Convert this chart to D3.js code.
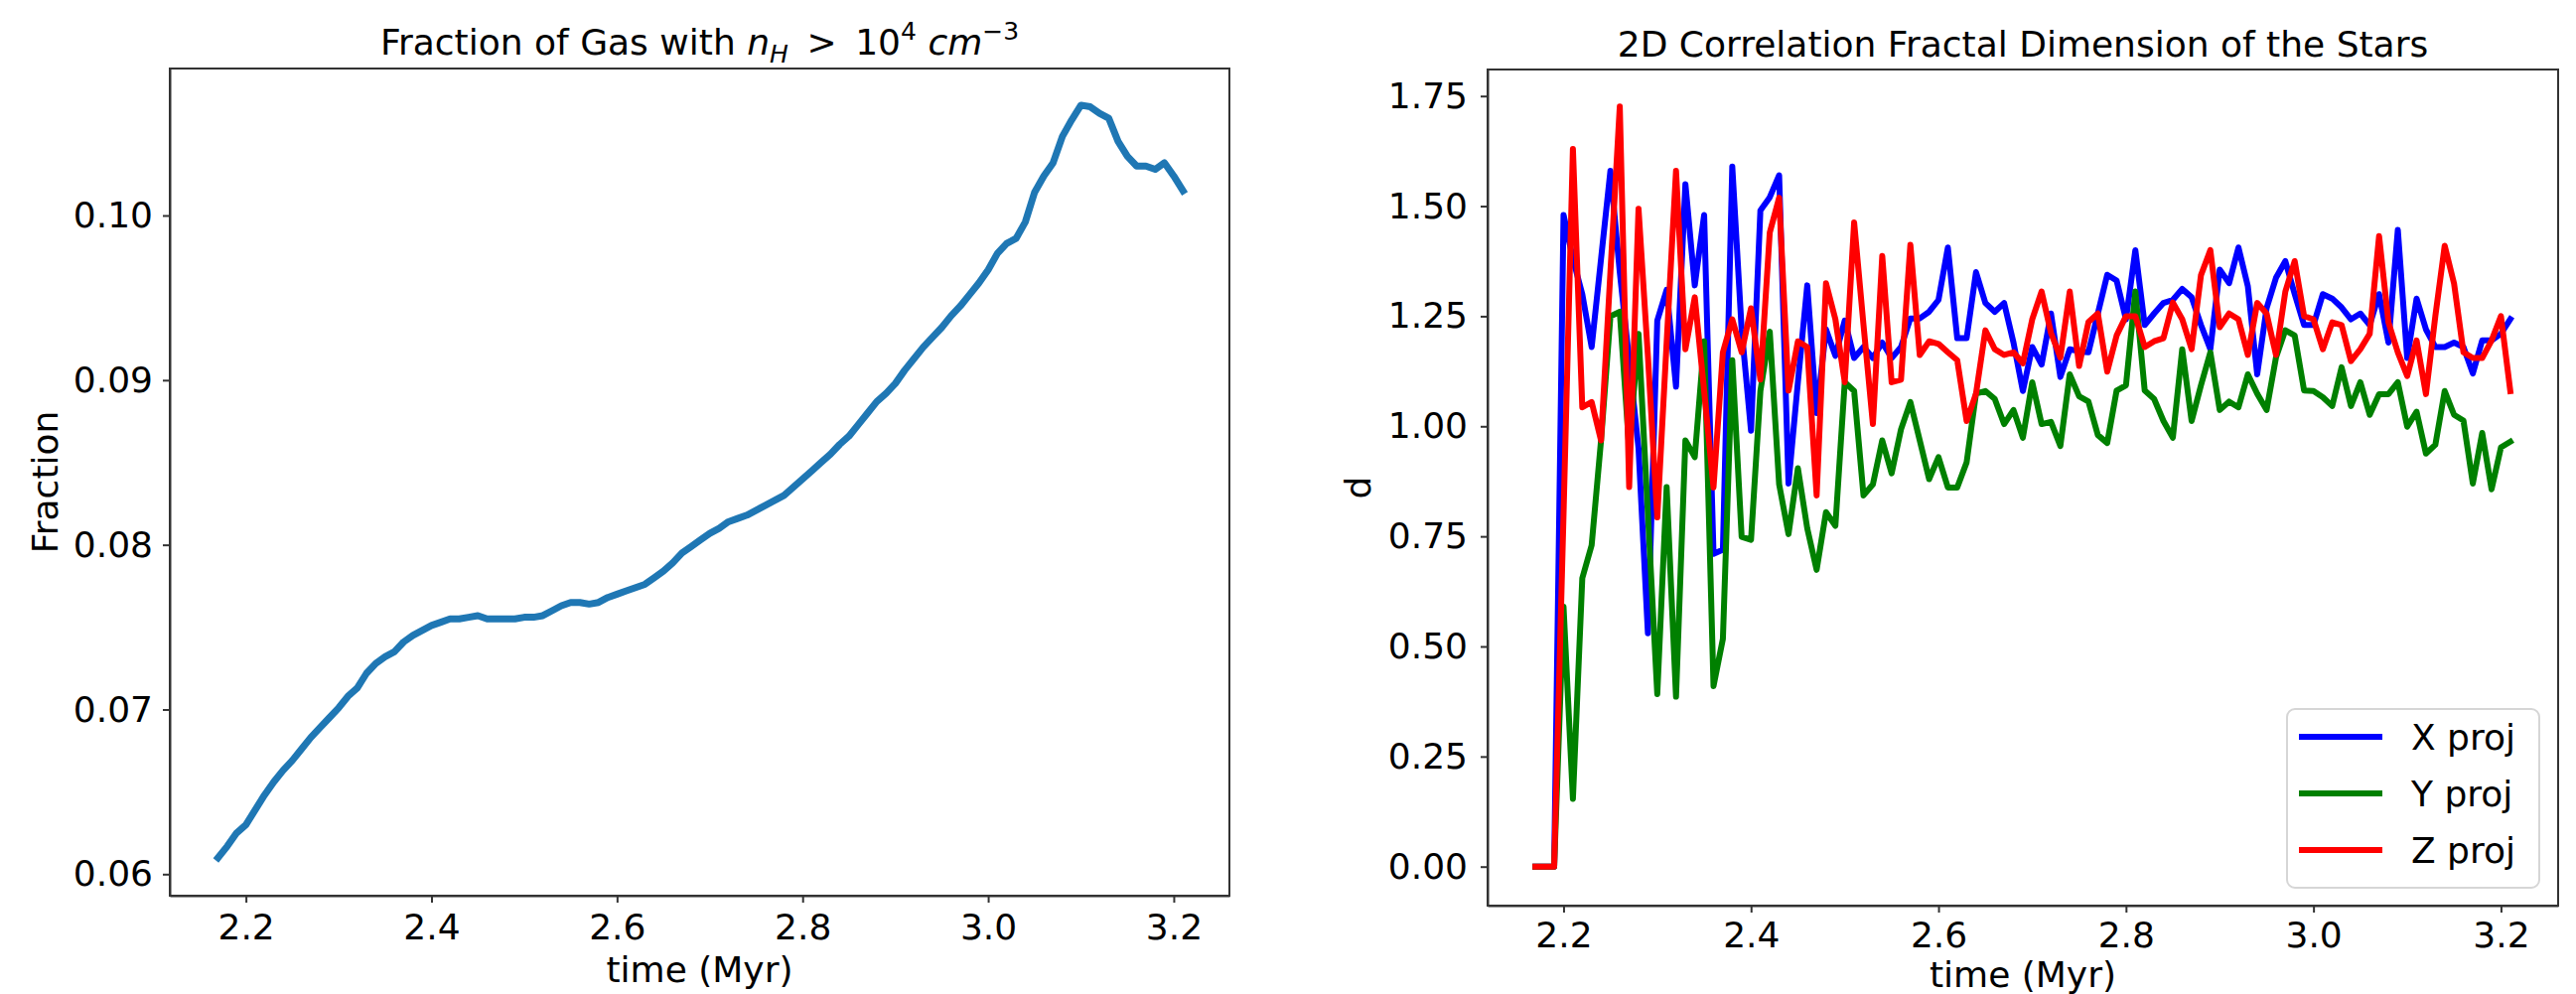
<!DOCTYPE html>
<html>
<head>
<meta charset="utf-8">
<script src="https://cdn.jsdelivr.net/npm/d3@7"></script>
<style>
  body { margin: 0; background: #fff; }
  svg { display: block; font-family: "DejaVu Sans", sans-serif; }
  .axis text { font-size: 36px; fill: #000; font-family: "DejaVu Sans", sans-serif; }
  .axis path, .axis line { stroke: #333; stroke-width: 2; }
</style>
</head>
<body>
<svg id="fig" width="2594" height="1001"></svg>
<script>
// snapshot times (Myr)
const times = [
  2.17, 2.18, 2.19, 2.20, 2.21, 2.22, 2.23, 2.24, 2.25, 2.26,
  2.27, 2.28, 2.29, 2.30, 2.31, 2.32, 2.33, 2.34, 2.35, 2.36,
  2.37, 2.38, 2.39, 2.40, 2.41, 2.42, 2.43, 2.44, 2.45, 2.46,
  2.47, 2.48, 2.49, 2.50, 2.51, 2.52, 2.53, 2.54, 2.55, 2.56,
  2.57, 2.58, 2.59, 2.60, 2.61, 2.62, 2.63, 2.64, 2.65, 2.66,
  2.67, 2.68, 2.69, 2.70, 2.71, 2.72, 2.73, 2.74, 2.75, 2.76,
  2.77, 2.78, 2.79, 2.80, 2.81, 2.82, 2.83, 2.84, 2.85, 2.86,
  2.87, 2.88, 2.89, 2.90, 2.91, 2.92, 2.93, 2.94, 2.95, 2.96,
  2.97, 2.98, 2.99, 3.00, 3.01, 3.02, 3.03, 3.04, 3.05, 3.06,
  3.07, 3.08, 3.09, 3.10, 3.11, 3.12, 3.13, 3.14, 3.15, 3.16,
  3.17, 3.18, 3.19, 3.20, 3.21
];

// fraction of gas above 1e4 cm^-3
const gasFraction = [
  0.0610, 0.0617, 0.0625, 0.0630, 0.0639, 0.0648, 0.0656, 0.0663, 0.0669, 0.0676,
  0.0683, 0.0689, 0.0695, 0.0701, 0.0708, 0.0713, 0.0722, 0.0728, 0.0732, 0.0735,
  0.0741, 0.0745, 0.0748, 0.0751, 0.0753, 0.0755, 0.0755, 0.0756, 0.0757, 0.0755,
  0.0755, 0.0755, 0.0755, 0.0756, 0.0756, 0.0757, 0.0760, 0.0763, 0.0765, 0.0765,
  0.0764, 0.0765, 0.0768, 0.0770, 0.0772, 0.0774, 0.0776, 0.0780, 0.0784, 0.0789,
  0.0795, 0.0799, 0.0803, 0.0807, 0.0810, 0.0814, 0.0816, 0.0818, 0.0821, 0.0824,
  0.0827, 0.0830, 0.0835, 0.0840, 0.0845, 0.0850, 0.0855, 0.0861, 0.0866, 0.0873,
  0.0880, 0.0887, 0.0892, 0.0898, 0.0906, 0.0913, 0.0920, 0.0926, 0.0932, 0.0939,
  0.0945, 0.0952, 0.0959, 0.0967, 0.0977, 0.0983, 0.0986, 0.0996, 0.1014, 0.1024,
  0.1032, 0.1048, 0.1058, 0.1067, 0.1066, 0.1062, 0.1059, 0.1045, 0.1036, 0.1030,
  0.1030, 0.1028, 0.1032, 0.1024, 0.1015
];

// correlation fractal dimension, one list per projection
const xProj = [
  0, 0, 0, 1.48, 1.38, 1.30, 1.18, 1.38, 1.58, 1.35,
  1.15, 0.95, 0.53, 1.24, 1.31, 1.09, 1.55, 1.32, 1.48, 0.71,
  0.72, 1.59, 1.22, 0.99, 1.49, 1.52, 1.57, 0.87, 1.10, 1.32,
  1.03, 1.22, 1.16, 1.24, 1.155, 1.18, 1.155, 1.19, 1.155, 1.18,
  1.245, 1.245, 1.26, 1.287, 1.406, 1.20, 1.20, 1.35, 1.28, 1.26,
  1.28, 1.19, 1.08, 1.18, 1.14, 1.256, 1.112, 1.175, 1.17, 1.168,
  1.256, 1.344, 1.331, 1.243, 1.40, 1.23, 1.256, 1.28, 1.287, 1.312,
  1.293, 1.23, 1.175, 1.356, 1.325, 1.406, 1.318, 1.118, 1.268, 1.337,
  1.375, 1.30, 1.23, 1.23, 1.30, 1.29, 1.27, 1.243, 1.256, 1.23,
  1.30, 1.19, 1.446, 1.155, 1.29, 1.22, 1.18, 1.18, 1.19, 1.18,
  1.12, 1.195, 1.195, 1.21, 1.243
];
const yProj = [
  0, 0, 0, 0.59, 0.154, 0.655, 0.73, 0.968, 1.25, 1.26,
  0.95, 1.21, 0.80, 0.392, 0.862, 0.386, 0.968, 0.93, 1.193, 0.41,
  0.517, 1.15, 0.749, 0.742, 1.08, 1.215, 0.868, 0.755, 0.905, 0.768,
  0.674, 0.805, 0.774, 1.10, 1.08, 0.843, 0.868, 0.968, 0.893, 0.993,
  1.055, 0.968, 0.88, 0.93, 0.861, 0.861, 0.918, 1.074, 1.08, 1.062,
  1.005, 1.037, 0.974, 1.10, 1.005, 1.01, 0.955, 1.118, 1.068, 1.056,
  0.98, 0.962, 1.081, 1.093, 1.306, 1.081, 1.062, 1.012, 0.974, 1.175,
  1.012, 1.093, 1.168, 1.037, 1.056, 1.043, 1.118, 1.074, 1.037, 1.156,
  1.218, 1.206, 1.081, 1.08, 1.066, 1.046, 1.134, 1.046, 1.10, 1.026,
  1.073, 1.073, 1.10, 0.999, 1.033, 0.938, 0.958, 1.08, 1.026, 1.013,
  0.87, 0.985, 0.857, 0.952, 0.965
];
const zProj = [
  0, 0, 0, 0.8, 1.63, 1.043, 1.055, 0.968, 1.35, 1.726,
  0.862, 1.494, 1.16, 0.793, 1.19, 1.58, 1.175, 1.293, 1.08, 0.861,
  1.168, 1.243, 1.168, 1.268, 1.106, 1.44, 1.519, 1.081, 1.193, 1.18,
  0.843, 1.325, 1.243, 1.10, 1.463, 1.23, 1.005, 1.387, 1.10, 1.106,
  1.412, 1.162, 1.193, 1.187, 1.168, 1.15, 1.012, 1.074, 1.218, 1.175,
  1.162, 1.168, 1.143, 1.243, 1.306, 1.212, 1.156, 1.306, 1.137, 1.237,
  1.256, 1.124, 1.206, 1.25, 1.25, 1.18, 1.193, 1.20, 1.281, 1.243,
  1.175, 1.343, 1.40, 1.225, 1.256, 1.243, 1.162, 1.28, 1.256, 1.162,
  1.306, 1.375, 1.25, 1.243, 1.175, 1.236, 1.23, 1.148, 1.175, 1.21,
  1.432, 1.236, 1.168, 1.114, 1.195, 1.073, 1.25, 1.41, 1.324, 1.168,
  1.155, 1.155, 1.195, 1.25, 1.08
];

const timeTicks = [2.2, 2.4, 2.6, 2.8, 3.0, 3.2];
const fractionTicks = [0.06, 0.07, 0.08, 0.09, 0.10];
const dimTicks = [0.00, 0.25, 0.50, 0.75, 1.00, 1.25, 1.50, 1.75];

const projSeries = [
  { name: 'X proj', values: xProj, color: '#0000ff' },
  { name: 'Y proj', values: yProj, color: '#008000' },
  { name: 'Z proj', values: zProj, color: '#ff0000' }
];

const svg = d3.select('#fig');

// ---------- left panel ----------
const left = { x0: 171, x1: 1238, y0: 69, y1: 902 };

const xL = d3.scaleLinear().domain([2.118, 3.260]).range([left.x0, left.x1]);
const yL = d3.scaleLinear().domain([0.058691, 0.108925]).range([left.y1, left.y0]);

const gL = svg.append('g');

gL.append('g')
    .attr('class', 'axis')
    .attr('transform', `translate(0,${left.y1})`)
    .call(d3.axisBottom(xL).tickValues(timeTicks).tickFormat(d3.format('.1f'))
        .tickSizeInner(7).tickSizeOuter(0).tickPadding(11));

gL.append('g')
    .attr('class', 'axis')
    .attr('transform', `translate(${left.x0},0)`)
    .call(d3.axisLeft(yL).tickValues(fractionTicks).tickFormat(d3.format('.2f'))
        .tickSizeInner(7).tickSizeOuter(0).tickPadding(10));

gL.append('path')
    .datum(gasFraction)
    .attr('fill', 'none')
    .attr('stroke', '#1f77b4')
    .attr('stroke-width', 7)
    .attr('stroke-linejoin', 'round')
    .attr('stroke-linecap', 'square')
    .attr('d', d3.line().x((d, i) => xL(times[i])).y(d => yL(d)));

gL.append('rect')
    .attr('x', left.x0).attr('y', left.y0)
    .attr('width', left.x1 - left.x0).attr('height', left.y1 - left.y0)
    .attr('fill', 'none').attr('stroke', '#333').attr('stroke-width', 2);

// title with the math bits
const t1 = gL.append('text')
    .attr('x', (left.x0 + left.x1) / 2)
    .attr('y', 55)
    .attr('text-anchor', 'middle')
    .attr('font-size', 36);
t1.append('tspan').text('Fraction of Gas with ');
t1.append('tspan').attr('font-style', 'italic').text('n');
t1.append('tspan').attr('font-style', 'italic').attr('font-size', 25).attr('dy', 8).text('H');
t1.append('tspan').attr('dy', -8).text(' \u2009>\u2009 10');
t1.append('tspan').attr('font-size', 25).attr('dy', -15).text('4');
t1.append('tspan').attr('dy', 15).text(' ');
t1.append('tspan').attr('font-style', 'italic').text('cm');
t1.append('tspan').attr('font-size', 25).attr('dy', -15).text('\u22123');

gL.append('text')
    .attr('x', (left.x0 + left.x1) / 2)
    .attr('y', 989)
    .attr('text-anchor', 'middle')
    .attr('font-size', 36)
    .text('time (Myr)');

gL.append('text')
    .attr('transform', `translate(58,${(left.y0 + left.y1) / 2}) rotate(-90)`)
    .attr('text-anchor', 'middle')
    .attr('font-size', 36)
    .text('Fraction');

// ---------- right panel ----------
const right = { x0: 1498, x1: 2576, y0: 70, y1: 912 };

const xR = d3.scaleLinear().domain([2.119, 3.261]).range([right.x0, right.x1]);
const yR = d3.scaleLinear().domain([-0.0886, 1.8102]).range([right.y1, right.y0]);

const gR = svg.append('g');

gR.append('g')
    .attr('class', 'axis')
    .attr('transform', `translate(0,${right.y1})`)
    .call(d3.axisBottom(xR).tickValues(timeTicks).tickFormat(d3.format('.1f'))
        .tickSizeInner(7).tickSizeOuter(0).tickPadding(9));

gR.append('g')
    .attr('class', 'axis')
    .attr('transform', `translate(${right.x0},0)`)
    .call(d3.axisLeft(yR).tickValues(dimTicks).tickFormat(d3.format('.2f'))
        .tickSizeInner(7).tickSizeOuter(0).tickPadding(13));

const line = d3.line().x((d, i) => xR(times[i])).y(d => yR(d));

gR.selectAll('.proj')
    .data(projSeries)
    .enter()
    .append('path')
    .attr('class', 'proj')
    .attr('fill', 'none')
    .attr('stroke', d => d.color)
    .attr('stroke-width', 6)
    .attr('stroke-linejoin', 'round')
    .attr('stroke-linecap', 'square')
    .attr('d', d => line(d.values));

gR.append('rect')
    .attr('x', right.x0).attr('y', right.y0)
    .attr('width', right.x1 - right.x0).attr('height', right.y1 - right.y0)
    .attr('fill', 'none').attr('stroke', '#333').attr('stroke-width', 2);

gR.append('text')
    .attr('x', (right.x0 + right.x1) / 2)
    .attr('y', 57)
    .attr('text-anchor', 'middle')
    .attr('font-size', 36)
    .text('2D Correlation Fractal Dimension of the Stars');

// the reference crops this label at the bottom edge; keep it just inside
gR.append('text')
    .attr('x', (right.x0 + right.x1) / 2)
    .attr('y', 994)
    .attr('text-anchor', 'middle')
    .attr('font-size', 36)
    .text('time (Myr)');

gR.append('text')
    .attr('transform', `translate(1380,${(right.y0 + right.y1) / 2}) rotate(-90)`)
    .attr('text-anchor', 'middle')
    .attr('font-size', 36)
    .text('d');

// legend, lower right
const legend = gR.append('g').attr('transform', 'translate(2303,714)');
legend.append('rect')
    .attr('width', 254).attr('height', 180)
    .attr('rx', 8).attr('ry', 8)
    .attr('fill', 'rgba(255,255,255,0.8)')
    .attr('stroke', '#d6d6d6').attr('stroke-width', 2);

const items = legend.selectAll('.item')
    .data(projSeries)
    .enter()
    .append('g')
    .attr('class', 'item')
    .attr('transform', (d, i) => `translate(0,${28 + i * 57})`);

items.append('line')
    .attr('x1', 12).attr('x2', 96)
    .attr('stroke', d => d.color)
    .attr('stroke-width', 6);

items.append('text')
    .attr('x', 125)
    .attr('y', 13)
    .attr('font-size', 36)
    .text(d => d.name);
</script>
</body>
</html>
